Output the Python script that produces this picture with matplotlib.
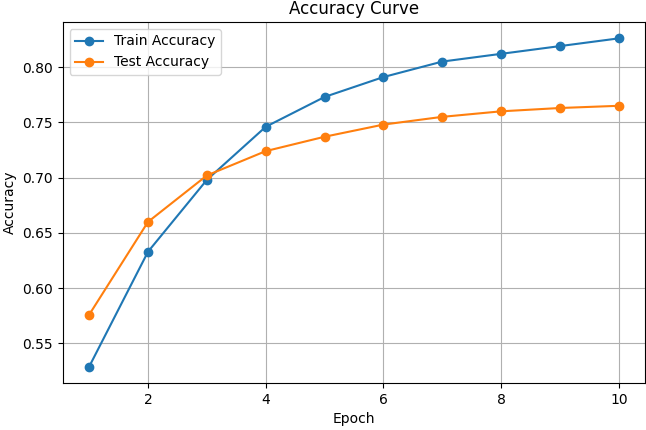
import matplotlib
matplotlib.use("Agg")
import matplotlib.pyplot as plt

epochs = [1, 2, 3, 4, 5, 6, 7, 8, 9, 10]
train_acc = [0.529, 0.633, 0.698, 0.746, 0.773, 0.791, 0.805, 0.812, 0.819, 0.826]
test_acc = [0.576, 0.660, 0.702, 0.724, 0.737, 0.748, 0.755, 0.760, 0.763, 0.765]

fig = plt.figure(figsize=(6.46, 4.30), dpi=100)
ax = fig.add_axes([0.097, 0.109, 0.902, 0.840])
ax.plot(epochs, train_acc, marker="o", label="Train Accuracy")
ax.plot(epochs, test_acc, marker="o", label="Test Accuracy")
ax.set_title("Accuracy Curve")
ax.set_xlabel("Epoch")
ax.set_ylabel("Accuracy")
ax.legend(loc="upper left")
ax.grid(True)

fig.savefig("out.png", dpi=100)
